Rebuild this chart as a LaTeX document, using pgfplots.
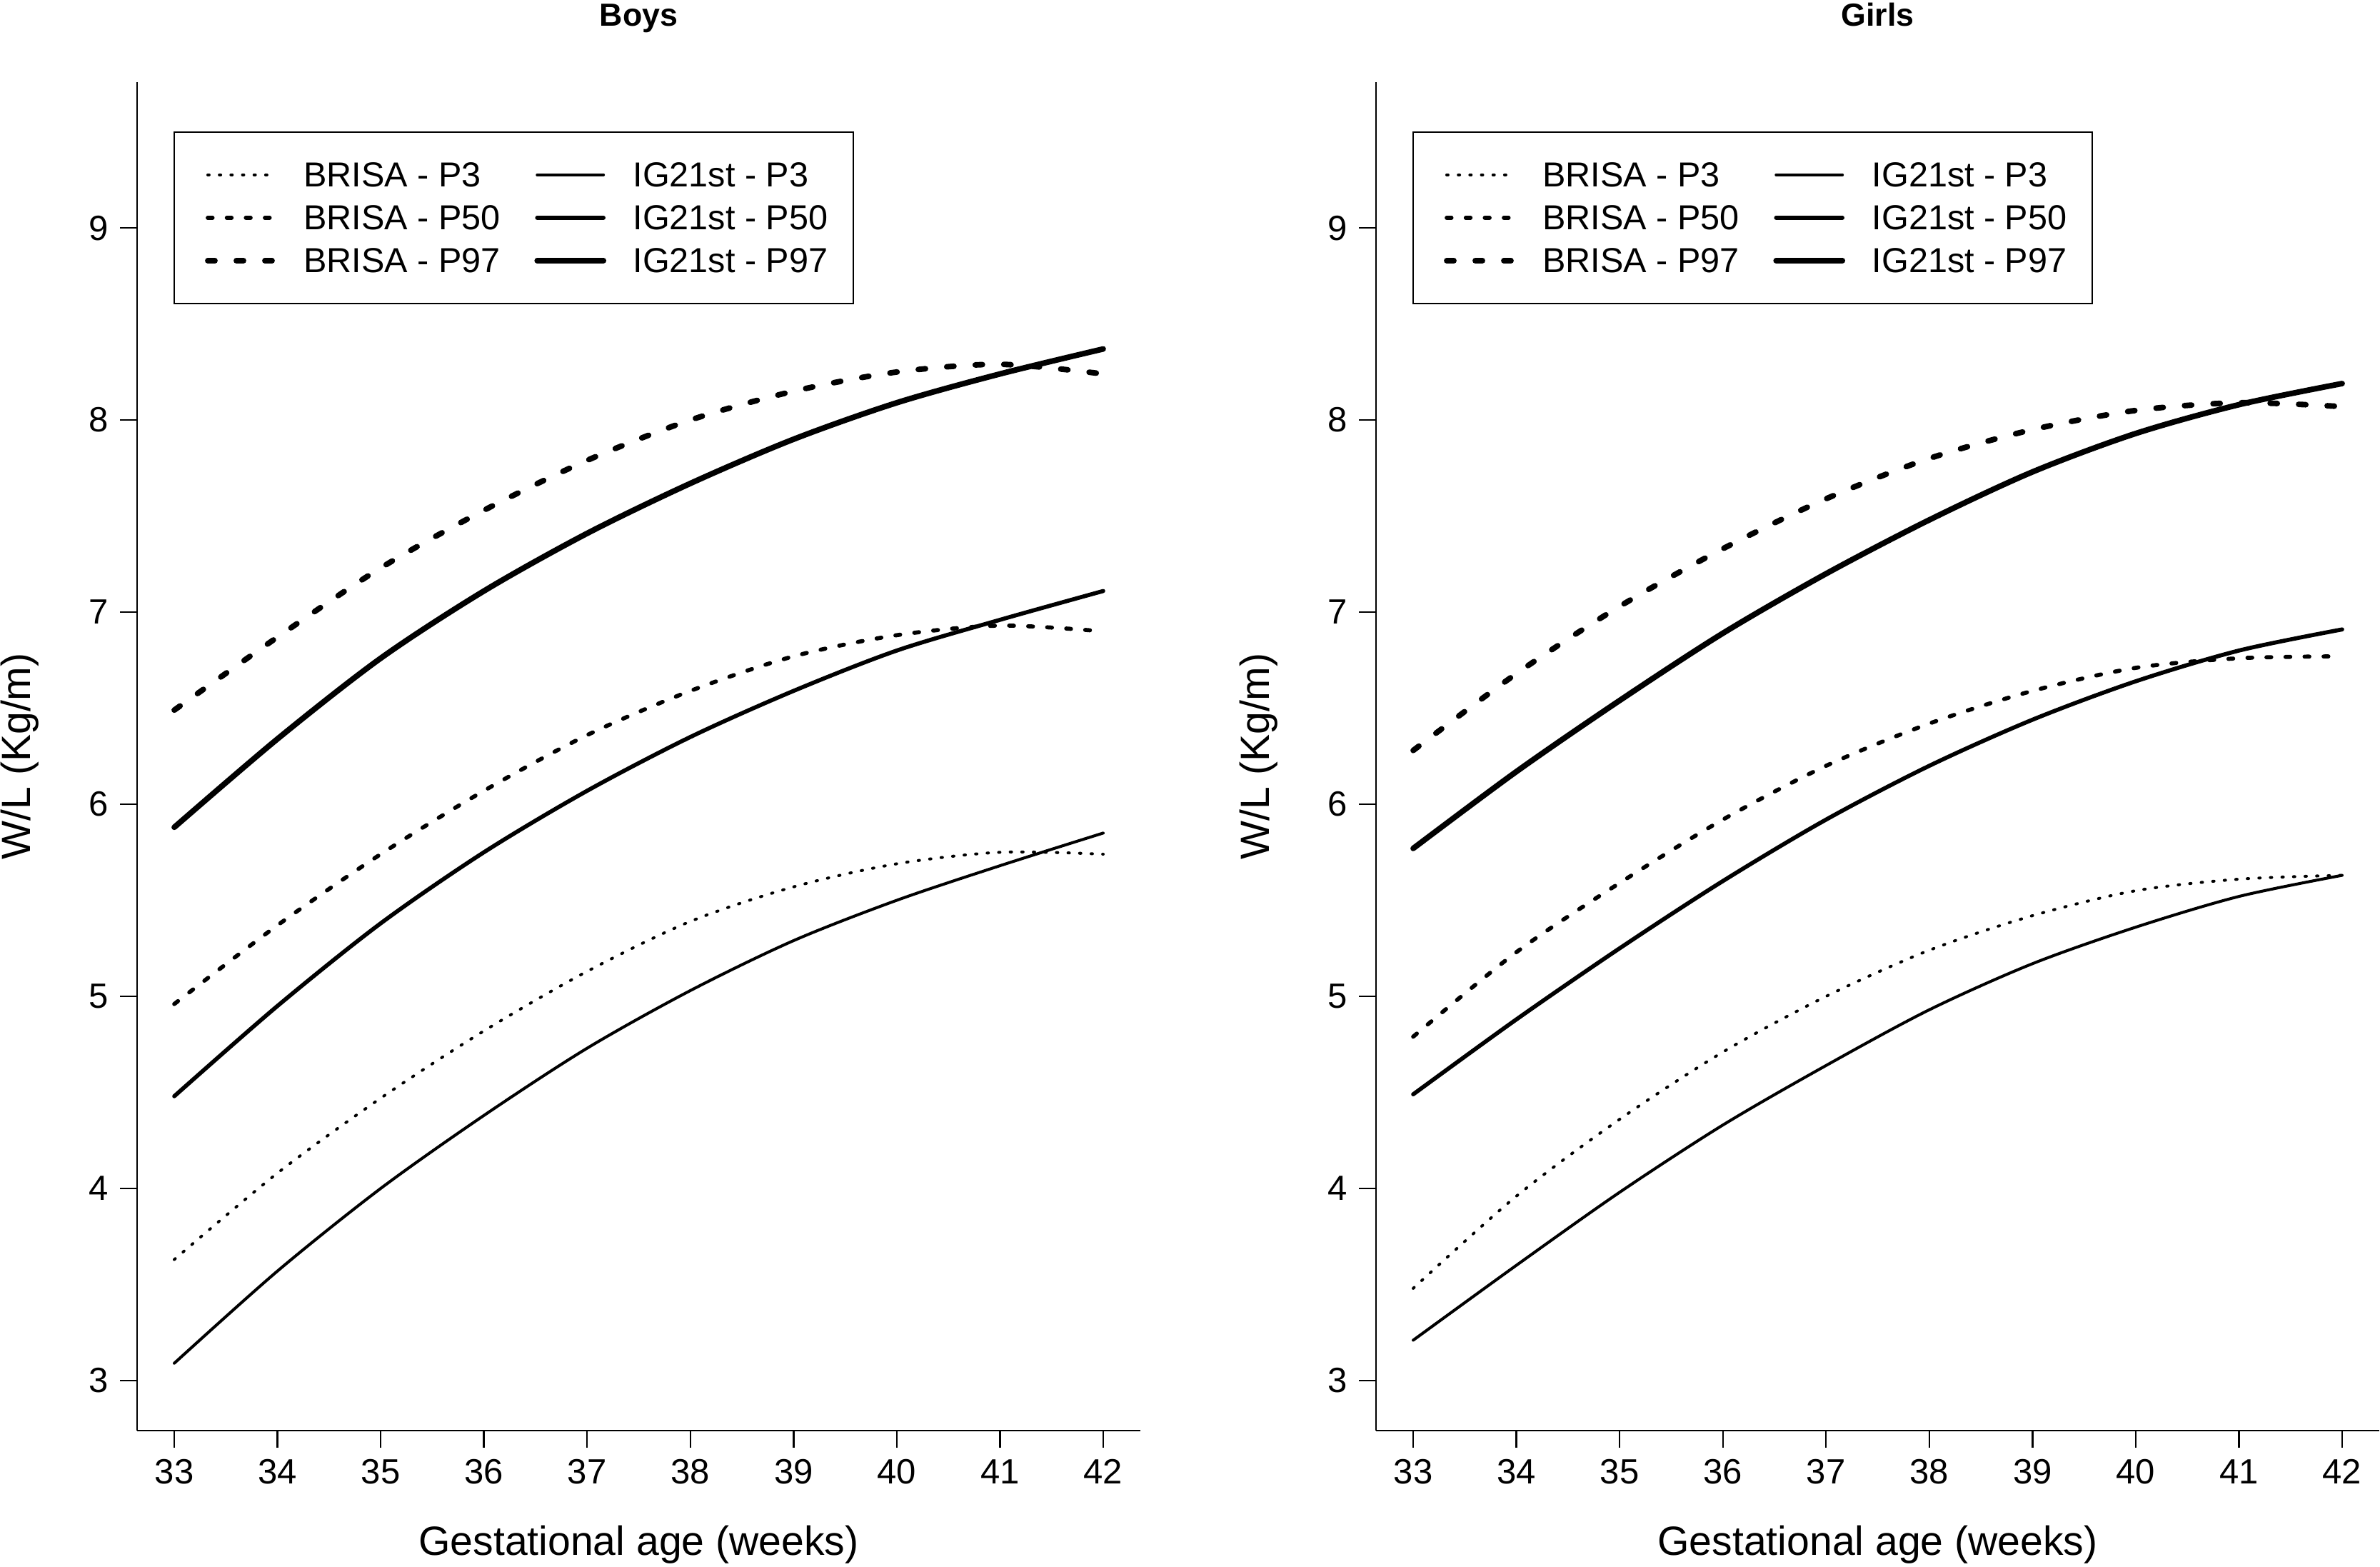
\documentclass[border=0pt]{standalone}
\usepackage{pgfplots}
\usepackage{pgfplotstable}
\usepackage{fontspec}
\setmainfont{Liberation Sans}
\pgfplotsset{compat=1.18}

% columns: week, BRISA P3, IG21st P3, BRISA P50, IG21st P50, BRISA P97, IG21st P97
\pgfplotstableread{
w  bp3  ip3  bp50 ip50 bp97 ip97
33 3.63 3.09 4.96 4.48 6.49 5.88
34 4.08 3.57 5.37 4.95 6.87 6.34
35 4.47 4.00 5.74 5.38 7.23 6.76
36 4.82 4.38 6.07 5.75 7.53 7.11
37 5.13 4.73 6.36 6.07 7.79 7.41
38 5.39 5.03 6.59 6.35 8.00 7.67
39 5.57 5.29 6.77 6.59 8.15 7.90
40 5.69 5.50 6.88 6.80 8.25 8.09
41 5.75 5.68 6.93 6.96 8.29 8.24
42 5.74 5.85 6.90 7.11 8.24 8.37
}\boys

\pgfplotstableread{
w  bp3  ip3  bp50 ip50 bp97 ip97
33 3.48 3.21 4.79 4.49 6.28 5.77
34 3.96 3.60 5.23 4.88 6.68 6.17
35 4.36 3.98 5.59 5.25 7.03 6.54
36 4.71 4.33 5.92 5.60 7.33 6.89
37 5.00 4.64 6.20 5.92 7.59 7.20
38 5.24 4.93 6.42 6.20 7.80 7.48
39 5.42 5.17 6.59 6.44 7.95 7.73
40 5.55 5.36 6.71 6.64 8.05 7.93
41 5.61 5.52 6.76 6.80 8.09 8.08
42 5.63 5.63 6.77 6.91 8.07 8.19
}\girls

\pgfplotsset{
  panel/.style={
    scale only axis, width=295.05pt, height=396.5pt,
    xmin=32.64, xmax=42.36, ymin=2.74, ymax=9.76,
    xtick={33,...,42}, ytick={3,...,9},
    axis lines=left, axis line style={-, line width=0.55pt},
    tick align=outside, major tick length=5pt,
    tick style={line width=0.5pt, black},
    tick label style={font=\fontsize{10.3}{12}\selectfont},
    /pgf/number format/assume math mode=true,
    xlabel={Gestational age (weeks)}, ylabel={W/L (Kg/m)},
    label style={font=\fontsize{12}{14}\selectfont},
    xlabel style={at={(axis description cs:0.5,-0.0927)}, anchor=base},
    ylabel style={at={(axis description cs:-0.1061,0.5)}, anchor=base},
    legend columns=2, legend cell align=left,
    legend image code/.code={\path (0pt,0pt); \draw[##1] (1.5pt,0pt) -- (21pt,0pt);},
    legend style={
      draw=black, line width=0.5pt,
      at={(rel axis cs:0.0363,0.9635)}, anchor=north west,
      font=\fontsize{10.2}{12}\selectfont,
      inner xsep=7.5pt, inner ysep=8pt, row sep=3.4pt,
      nodes={inner sep=0pt, text height=8.2pt, text depth=1pt},
      /tikz/every odd column/.append style={column sep=7.9pt},
      /tikz/every even column/.append style={column sep=8.5pt},
    },
  },
  b3/.style={black, line width=0.85pt, line cap=round, dash pattern=on 0.4pt off 3pt},
  b50/.style={black, line width=1.2pt, line cap=round, dash pattern=on 1.4pt off 4.2pt},
  b97/.style={black, line width=1.65pt, line cap=round, dash pattern=on 2.1pt off 6.3pt},
  i3/.style={black, line width=0.85pt, line cap=round},
  i50/.style={black, line width=1.2pt, line cap=round},
  i97/.style={black, line width=1.65pt, line cap=round},
}

\begin{document}
\begin{tikzpicture}
\begin{axis}[panel, name=bx]
  \addplot[b3, smooth] table[x=w, y=bp3] {\boys};
  \addplot[i3, smooth] table[x=w, y=ip3] {\boys};
  \addplot[b50, smooth] table[x=w, y=bp50] {\boys};
  \addplot[i50, smooth] table[x=w, y=ip50] {\boys};
  \addplot[b97, smooth] table[x=w, y=bp97] {\boys};
  \addplot[i97, smooth] table[x=w, y=ip97] {\boys};
  \legend{BRISA - P3, IG21st - P3, BRISA - P50, IG21st - P50, BRISA - P97, IG21st - P97}
\end{axis}
\begin{axis}[panel, name=gx, at={(364.35pt,0pt)}]
  \addplot[b3, smooth] table[x=w, y=bp3] {\girls};
  \addplot[i3, smooth] table[x=w, y=ip3] {\girls};
  \addplot[b50, smooth] table[x=w, y=bp50] {\girls};
  \addplot[i50, smooth] table[x=w, y=ip50] {\girls};
  \addplot[b97, smooth] table[x=w, y=bp97] {\girls};
  \addplot[i97, smooth] table[x=w, y=ip97] {\girls};
  \legend{BRISA - P3, IG21st - P3, BRISA - P50, IG21st - P50, BRISA - P97, IG21st - P97}
\end{axis}
\node[anchor=base, inner sep=0pt, font=\bfseries\fontsize{9.4}{11}\selectfont] at ([yshift=16.4pt]bx.north) {Boys};
\node[anchor=base, inner sep=0pt, font=\bfseries\fontsize{9.4}{11}\selectfont] at ([yshift=16.4pt]gx.north) {Girls};
\pgfresetboundingbox
\useasboundingbox (-40.32pt,-40.1pt) rectangle (659.6pt,420.6pt);
\end{tikzpicture}
\end{document}
